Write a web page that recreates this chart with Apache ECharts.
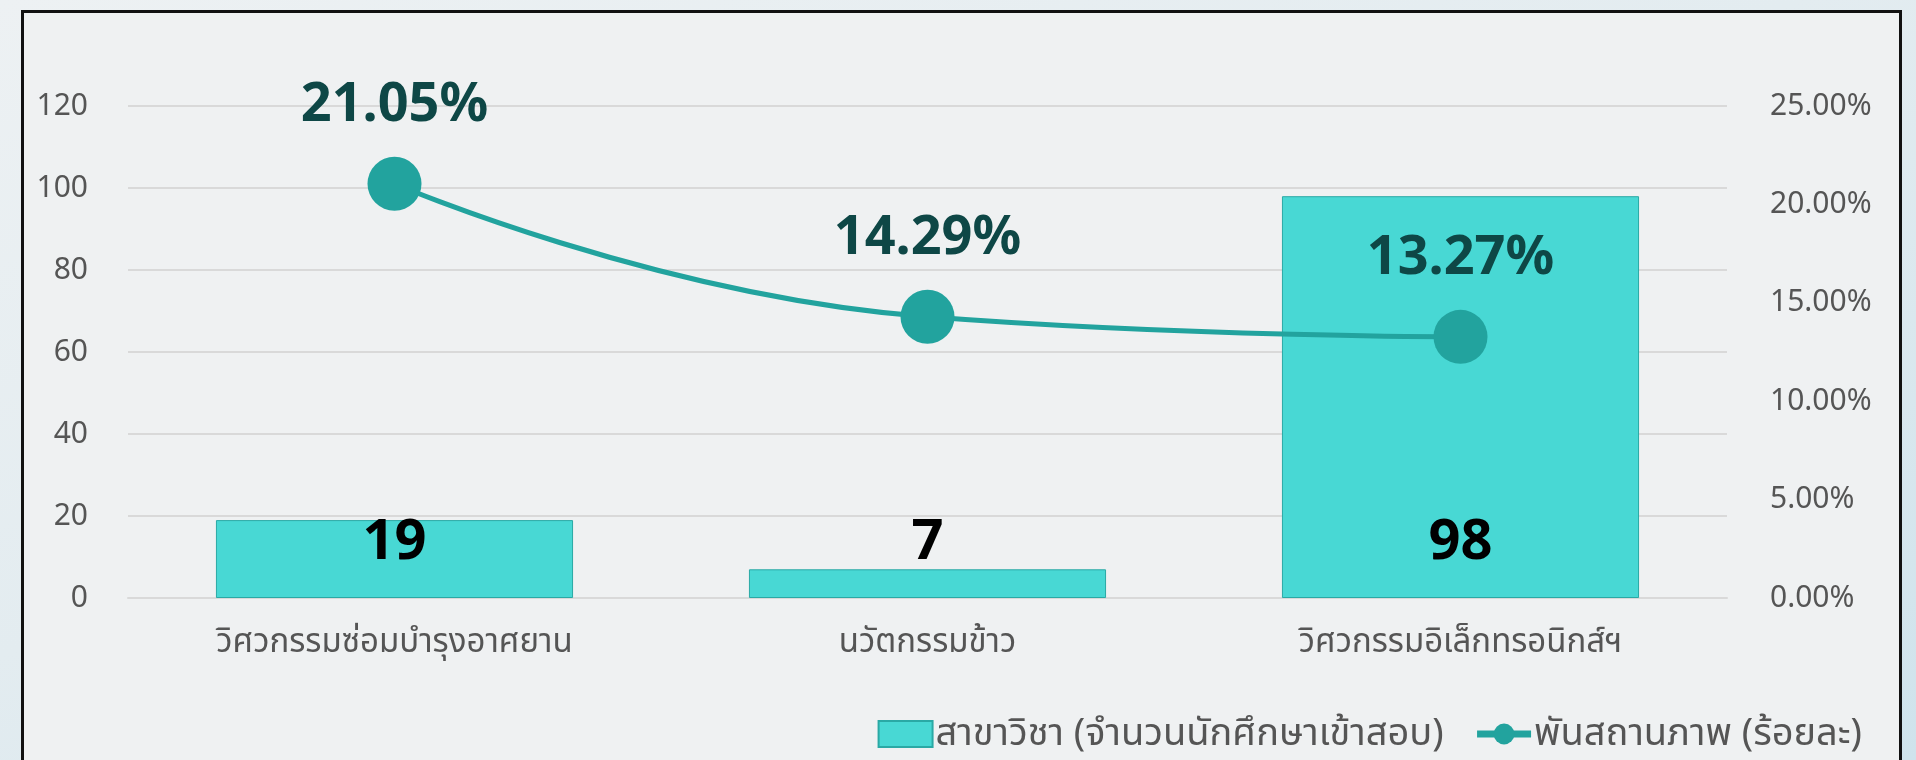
<!DOCTYPE html>
<html>
<head>
<meta charset="utf-8">
<script src="https://cdn.jsdelivr.net/npm/echarts@6/dist/echarts.min.js"></script>
<style>
  html, body { margin: 0; padding: 0; }
  body {
    width: 1916px; height: 760px; overflow: hidden; position: relative;
    background: linear-gradient(160deg, #edf1f3 0%, #e3ecf0 45%, #cfe3ec 100%);
  }
  #frame {
    position: absolute; left: 21px; top: 10px; width: 1875px; height: 800px;
    border-left: 3px solid #111; border-top: 3px solid #111; border-right: 3px solid #111;
    background: #eff1f2;
  }
  #chart { position: absolute; left: 0; top: 0; width: 1916px; height: 760px; }
</style>
</head>
<body>
<div id="frame"></div>
<div id="chart"></div>
<script>
// สาขาวิชา
const categories = ["วิศวกรรมซ่อมบำรุงอาศยาน", "นวัตกรรมข้าว", "วิศวกรรมอิเล็กทรอนิกส์ฯ"];
const examinees = [19, 7, 98];
const passRate = [21.05, 14.29, 13.27];
const barName = "สาขาวิชา (จำนวนนักศึกษาเข้าสอบ)";
const lineName = "พันสถานภาพ (ร้อยละ)";

const font = '"Noto Sans", "Noto Sans Thai", sans-serif';
const chart = echarts.init(document.getElementById("chart"));

chart.setOption({
  animation: false,
  textStyle: { fontFamily: font },
  grid: { left: 128, right: 189, top: 106, bottom: 162 },
  legend: {
    right: 49,
    bottom: 2,
    itemWidth: 54,
    itemHeight: 26,
    itemGap: 30,
    textStyle: { fontSize: 38, color: "#555", fontFamily: font, padding: [0, 0, 0, -2] },
    data: [
      { name: barName, icon: "rect" },
      { name: lineName, lineStyle: { width: 7 } }
    ]
  },
  xAxis: {
    type: "category",
    data: categories,
    axisTick: { show: false },
    axisLine: { lineStyle: { color: "#d9d9d9", width: 2 } },
    axisLabel: { fontSize: 33, color: "#555", margin: 28 }
  },
  yAxis: [
    {
      type: "value", min: 0, max: 120, interval: 20,
      axisLabel: { fontSize: 30, color: "#555", margin: 40 },
      splitLine: { lineStyle: { color: "#d9d9d9", width: 2 } }
    },
    {
      type: "value", min: 0, max: 25, interval: 5,
      axisLabel: { fontSize: 30, color: "#555", margin: 43, formatter: v => v.toFixed(2) + "%" },
      splitLine: { show: false }
    }
  ],
  series: [
    {
      name: barName,
      type: "bar",
      data: examinees,
      barWidth: "67%",
      itemStyle: { color: "#48d8d4", borderColor: "#2aa9a5", borderWidth: 1 },
      label: {
        show: true, position: "insideBottom", distance: 27,
        fontSize: 56, fontWeight: "bold", color: "#000"
      }
    },
    {
      name: lineName,
      type: "line",
      yAxisIndex: 1,
      data: passRate,
      smooth: 0.5,
      symbol: "circle",
      symbolSize: 54,
      lineStyle: { color: "#22a39e", width: 5 },
      itemStyle: { color: "#22a39e" },
      label: {
        show: true, position: "top", distance: 24,
        fontSize: 54, fontWeight: "bold", color: "#0e4746",
        formatter: p => p.value.toFixed(2) + "%"
      }
    }
  ]
});

window.onresize = function () {
  chart.resize();
};
</script>
</body>
</html>
